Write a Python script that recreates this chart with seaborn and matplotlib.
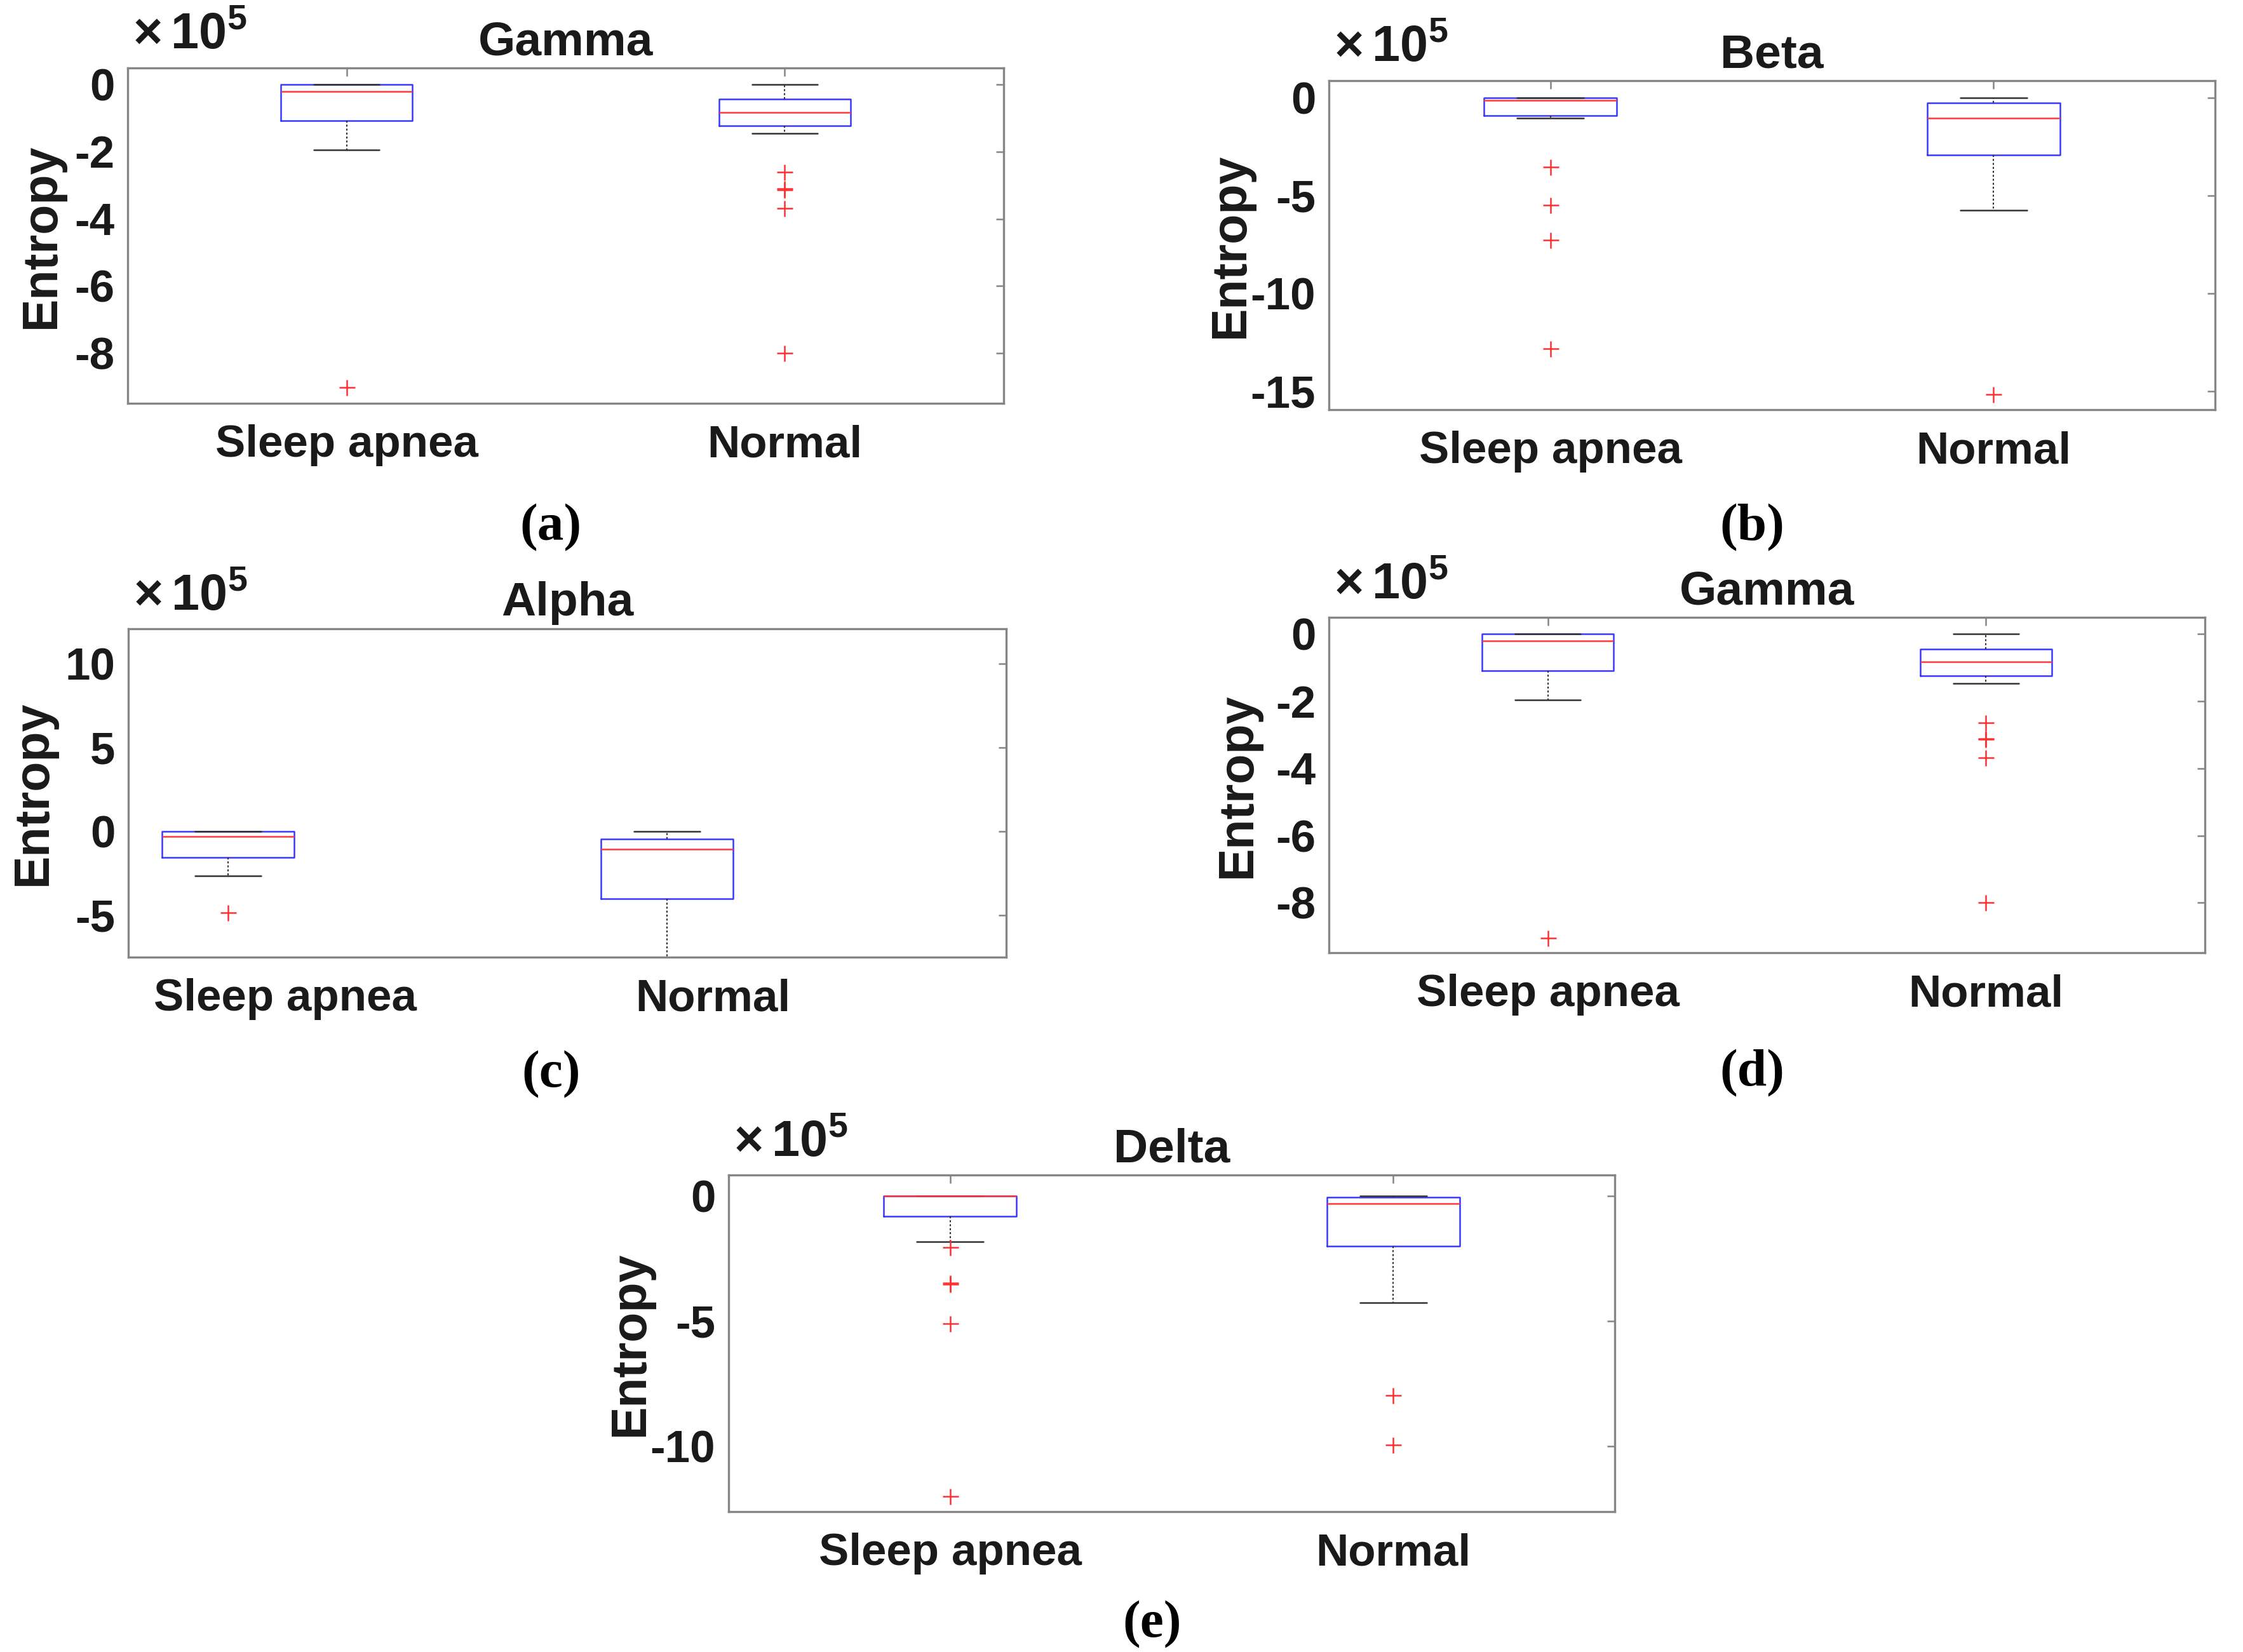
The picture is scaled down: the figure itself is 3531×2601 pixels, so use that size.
"""Entropy box plots per EEG band, sleep apnea vs normal (MATLAB-style boxes)."""

import matplotlib
matplotlib.use("Agg")
import matplotlib.pyplot as plt
import seaborn as sns

# all values in units of 1e5 (each axis carries a x10^5 multiplier)
groups = ["Sleep apnea", "Normal"]
titles = ["Gamma", "Beta", "Alpha", "Gamma", "Delta"]
tags = ["(a)", "(b)", "(c)", "(d)", "(e)"]

# one [sleep apnea, normal] pair per panel
whisker_high = [[0.0, 0.0], [0.0, 0.0], [0.0, 0.0], [0.0, 0.0], [0.0, 0.0]]
upper_quartile = [[0.0, -0.43], [0.0, -0.28], [0.0, -0.43], [0.0, -0.45], [0.0, -0.03]]
median = [[-0.20, -0.83], [-0.15, -1.06], [-0.29, -1.05], [-0.20, -0.82], [0.0, -0.29]]
lower_quartile = [[-1.08, -1.23], [-0.91, -2.93], [-1.56, -4.03], [-1.08, -1.25], [-0.79, -1.99]]
whisker_low = [[-1.95, -1.45], [-1.06, -5.76], [-2.65, -8.0], [-1.96, -1.46], [-1.81, -4.25]]
outliers = [
    [[-9.03], [-2.61, -3.10, -3.13, -3.68, -8.01]],
    [[-3.54, -5.50, -7.28, -12.85], [-15.17]],
    [[-4.83], []],
    [[-9.05], [-2.64, -3.11, -3.14, -3.68, -8.00]],
    [[-2.05, -3.48, -3.52, -5.09, -12.0], [-7.98, -9.96]],
]

y_limits = [(-9.5, 0.5), (-15.95, 0.86), (-7.5, 12.1), (-9.49, 0.5), (-12.62, 0.85)]
y_ticks = [[-8, -6, -4, -2, 0], [-15, -10, -5, 0], [-5, 0, 5, 10],
           [-8, -6, -4, -2, 0], [-10, -5, 0]]

# layout (pixel boxes of the 3531x2601 canvas: left, top, right, bottom)
W, H = 3531, 2601
axes_px = [(201, 107, 1580, 635), (2092, 127, 3487, 645), (202, 990, 1584, 1507),
           (2092, 972, 3471, 1500), (1147, 1850, 2542, 2380)]
x_limits = [(0.5, 2.5), (0.5, 2.5), (0.773, 2.773), (0.5, 2.5), (0.5, 2.5)]
label_shift = [(0, 0), (0, 0), (0.13, 0.105), (0, 0), (0, 0)]
show_xticks = [True, True, False, True, True]
ylabel_x = [-0.072, -0.085, -0.082, -0.078, -0.085]
tag_px = [(867, 831), (2758, 831), (868, 1692), (2758, 1690), (1814, 2558)]

sns.set_theme(style="white")
plt.rcParams["font.family"] = ["Liberation Sans", "DejaVu Sans"]
plt.rcParams["font.weight"] = "bold"
plt.rcParams["mathtext.fontset"] = "custom"
plt.rcParams["mathtext.rm"] = "Liberation Sans"
plt.rcParams["mathtext.bf"] = "Liberation Sans:bold"

TEXT = "#1a1a1a"
SPINE = "#858585"


def draw_panel(fig, i):
    l, t, r, b = axes_px[i]
    ax = fig.add_axes([l / W, 1 - b / H, (r - l) / W, (b - t) / H])

    stats = []
    for g, name in enumerate(groups):
        stats.append(dict(label=name, med=median[i][g],
                          q1=lower_quartile[i][g], q3=upper_quartile[i][g],
                          whislo=whisker_low[i][g], whishi=whisker_high[i][g],
                          fliers=outliers[i][g]))

    ax.bxp(stats, positions=[1, 2], widths=0.3, showfliers=True,
           boxprops=dict(color="#3838ff", lw=0.6),
           medianprops=dict(color="#ff3838", lw=0.6),
           whiskerprops=dict(color="#333333", lw=0.5,
                             linestyle=(0, (1.5, 1.5))),
           capprops=dict(color="#333333", lw=0.6),
           flierprops=dict(marker="+", markeredgecolor="#ff3030",
                           markersize=6, markeredgewidth=0.6,
                           linestyle="none"))

    ax.set_xlim(x_limits[i])
    ax.set_ylim(y_limits[i])
    ax.set_yticks(y_ticks[i])
    ax.set_yticklabels([str(v) for v in y_ticks[i]])
    ax.set_xticks([1 + label_shift[i][0], 2 + label_shift[i][1]])
    ax.set_xticklabels(groups)

    for s in ax.spines.values():
        s.set_color(SPINE)
        s.set_linewidth(0.8)
    ax.tick_params(direction="in", length=3, width=0.6, color=SPINE,
                   top=True, right=True, labelcolor=TEXT)
    ax.tick_params(axis="y", labelsize=17, pad=5)
    ax.tick_params(axis="x", labelsize=17, pad=8)
    if not show_xticks[i]:
        ax.tick_params(axis="x", length=0)

    ax.set_title(titles[i], fontsize=18, fontweight="bold", color=TEXT, pad=5)
    ax.set_ylabel("Entropy", fontsize=18.5, fontweight="bold", color=TEXT)
    ax.yaxis.set_label_coords(ylabel_x[i], 0.5)

    ax.annotate(r"$\times\,\mathbf{10}^{\mathbf{5}}$", xy=(0, 1),
                xycoords="axes fraction", xytext=(2, 3),
                textcoords="offset points", ha="left", va="bottom",
                fontsize=19, color=TEXT)

    tx, ty = tag_px[i]
    fig.text(tx / W, 1 - ty / H, tags[i], ha="center", va="center",
             fontsize=20, fontweight="bold", color="black",
             family=["Liberation Serif", "DejaVu Serif"])


fig = plt.figure(figsize=(W / 300, H / 300), dpi=300)
for i in range(len(titles)):
    draw_panel(fig, i)

fig.savefig("out.png", dpi=300, facecolor="white")
plt.close(fig)
